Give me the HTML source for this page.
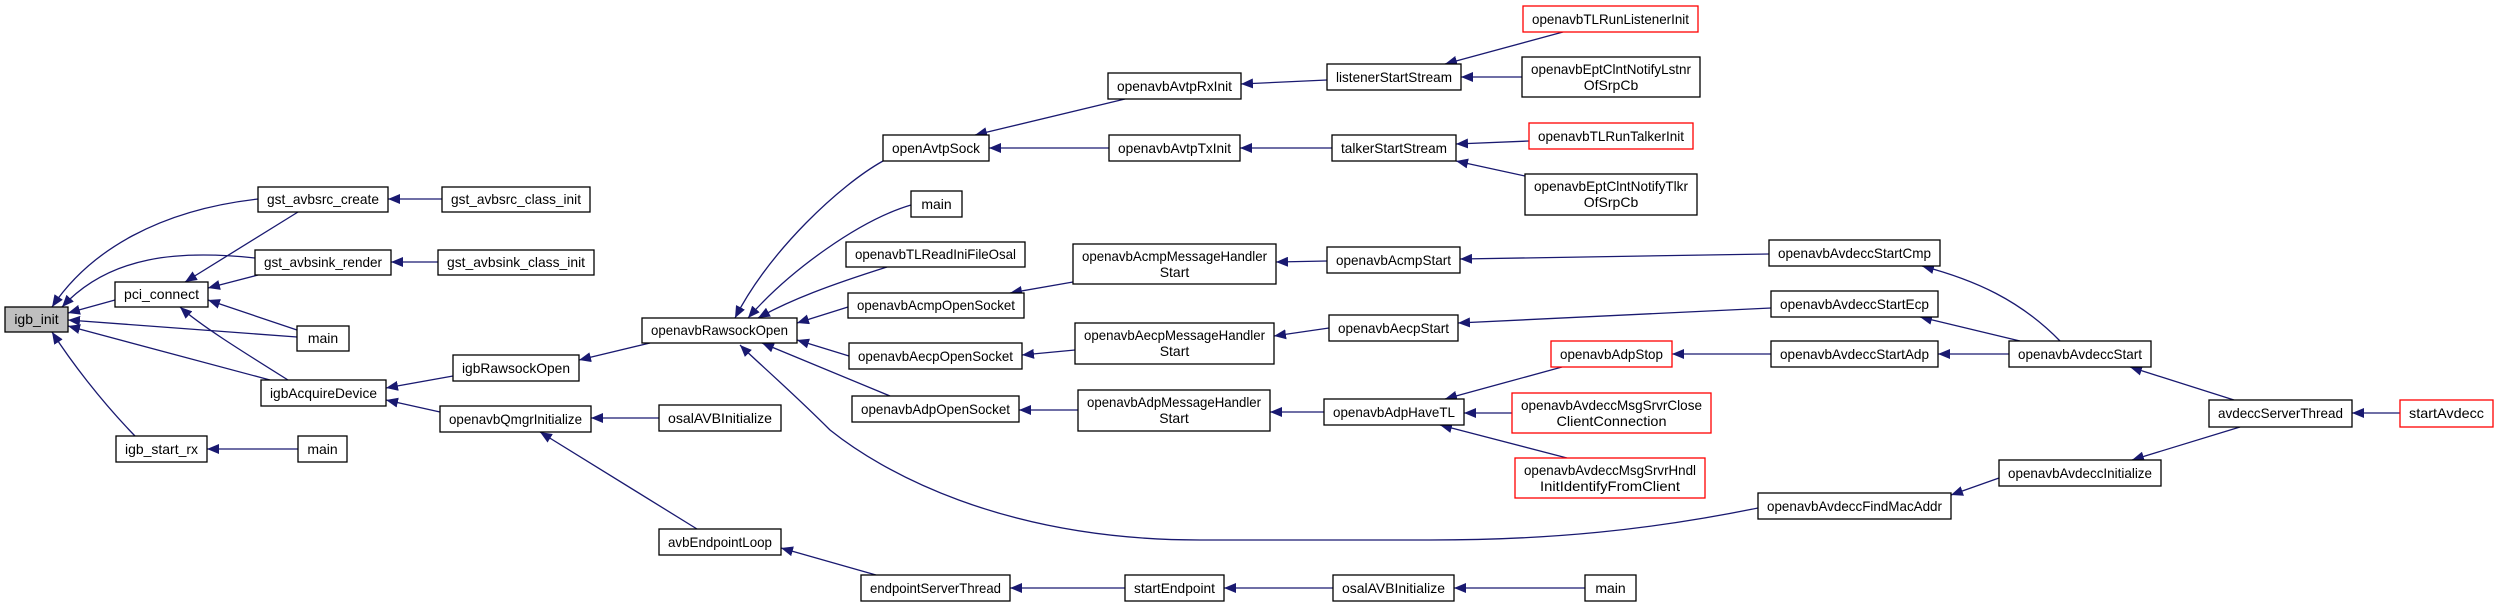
<!DOCTYPE html>
<html><head><meta charset="utf-8"><style>
html,body{margin:0;padding:0;background:#fff;}
svg{display:block;}
text{font-family:"Liberation Sans",sans-serif;font-size:14px;fill:#000;}
.b{fill:#fff;stroke:#000;stroke-width:1.3;}
.r{fill:#fff;stroke:#ff0000;stroke-width:1.3;}
.g{fill:#bfbfbf;stroke:#000;stroke-width:1.3;}
.e{fill:none;stroke:#191970;stroke-width:1.3;marker-end:url(#a);}
</style></head><body>
<svg width="2497" height="607" viewBox="0 0 2497 607" xmlns="http://www.w3.org/2000/svg">
<defs><marker id="a" markerUnits="userSpaceOnUse" markerWidth="12" markerHeight="10" refX="12" refY="5" orient="auto"><path d="M0,0 L12,5 L0,10 z" fill="#191970"/></marker></defs>

<path class="e" d="M258,199 C160,210 90,250 52,307"/>
<path class="e" d="M255,258 C180,250 110,255 62,307"/>
<path class="e" d="M115,300 L68,313"/>
<path class="e" d="M297,337 L68,320"/>
<path class="e" d="M270,380 L68,326"/>
<path class="e" d="M135,436 C100,400 70,360 52,332"/>
<path class="e" d="M298,212 L185,282"/>
<path class="e" d="M258,275 L208,288"/>
<path class="e" d="M297,330 L208,300"/>
<path class="e" d="M288,380 C240,350 200,325 180,307"/>
<path class="e" d="M442,199 L388,199"/>
<path class="e" d="M438,262 L391,262"/>
<path class="e" d="M453,376 L386,388"/>
<path class="e" d="M440,412 L386,400"/>
<path class="e" d="M298,449 L207,449"/>
<path class="e" d="M650,343 L579,360"/>
<path class="e" d="M659,418 L591,418"/>
<path class="e" d="M697,529 L540,432"/>
<path class="e" d="M876,575 L781,548"/>
<path class="e" d="M1125,588 L1010,588"/>
<path class="e" d="M1333,588 L1224,588"/>
<path class="e" d="M1585,588 L1454,588"/>
<path class="e" d="M883,161 C840,185 770,250 735,318"/>
<path class="e" d="M911,205 C860,220 790,270 748,318"/>
<path class="e" d="M887,267 C830,285 790,300 758,318"/>
<path class="e" d="M848,307 L797,323"/>
<path class="e" d="M849,356 L797,340"/>
<path class="e" d="M890,396 L762,343"/>
<path class="e" d="M1758,508 C1650,530 1550,540 1430,540 L1200,540 C1000,540 880,470 830,430 C790,390 755,360 740,345"/>
<path class="e" d="M1125,99 L975,135"/>
<path class="e" d="M1109,148 L989,148"/>
<path class="e" d="M1327,80 L1241,84"/>
<path class="e" d="M1332,148 L1240,148"/>
<path class="e" d="M1563,32 L1445,64"/>
<path class="e" d="M1522,77 L1461,77"/>
<path class="e" d="M1529,141 L1456,144"/>
<path class="e" d="M1525,176 L1456,161"/>
<path class="e" d="M1073,282 L1010,293"/>
<path class="e" d="M1327,261 L1276,262"/>
<path class="e" d="M1769,254 L1460,259"/>
<path class="e" d="M1075,350 L1022,355"/>
<path class="e" d="M1329,328 L1274,336"/>
<path class="e" d="M1771,308 L1458,323"/>
<path class="e" d="M1078,410 L1019,410"/>
<path class="e" d="M1324,412 L1270,412"/>
<path class="e" d="M1562,367 L1445,399"/>
<path class="e" d="M1512,413 L1464,413"/>
<path class="e" d="M1567,458 L1440,425"/>
<path class="e" d="M1771,354 L1672,354"/>
<path class="e" d="M2060,341 C2020,300 1975,280 1922,266"/>
<path class="e" d="M2020,341 L1920,317"/>
<path class="e" d="M2009,354 L1938,354"/>
<path class="e" d="M2234,400 L2130,367"/>
<path class="e" d="M2400,413 L2352,413"/>
<path class="e" d="M2240,427 L2132,460"/>
<path class="e" d="M1999,478 L1951,495"/>

<g>
<rect class="g" x="5" y="307" width="63" height="25"/><text x="36.5" y="324" text-anchor="middle">igb_init</text>
<rect class="b" x="258" y="187" width="130" height="25"/><text x="323" y="204" text-anchor="middle" textLength="112" lengthAdjust="spacingAndGlyphs">gst_avbsrc_create</text>
<rect class="b" x="442" y="187" width="148" height="25"/><text x="516" y="204" text-anchor="middle" textLength="130" lengthAdjust="spacingAndGlyphs">gst_avbsrc_class_init</text>
<rect class="b" x="255" y="250" width="136" height="25"/><text x="323" y="267" text-anchor="middle" textLength="118" lengthAdjust="spacingAndGlyphs">gst_avbsink_render</text>
<rect class="b" x="438" y="250" width="156" height="25"/><text x="516" y="267" text-anchor="middle" textLength="138" lengthAdjust="spacingAndGlyphs">gst_avbsink_class_init</text>
<rect class="b" x="115" y="282" width="93" height="25"/><text x="161.5" y="299" text-anchor="middle" textLength="75" lengthAdjust="spacingAndGlyphs">pci_connect</text>
<rect class="b" x="297" y="326" width="52" height="25"/><text x="323" y="343" text-anchor="middle">main</text>
<rect class="b" x="261" y="380" width="125" height="26"/><text x="323.5" y="398" text-anchor="middle" textLength="107" lengthAdjust="spacingAndGlyphs">igbAcquireDevice</text>
<rect class="b" x="453" y="355" width="126" height="26"/><text x="516" y="373" text-anchor="middle" textLength="108" lengthAdjust="spacingAndGlyphs">igbRawsockOpen</text>
<rect class="b" x="440" y="406" width="151" height="26"/><text x="515.5" y="424" text-anchor="middle" textLength="133" lengthAdjust="spacingAndGlyphs">openavbQmgrInitialize</text>
<rect class="b" x="116" y="436" width="91" height="26"/><text x="161.5" y="454" text-anchor="middle" textLength="73" lengthAdjust="spacingAndGlyphs">igb_start_rx</text>
<rect class="b" x="298" y="436" width="49" height="26"/><text x="322.5" y="454" text-anchor="middle">main</text>
<rect class="b" x="659" y="405" width="122" height="26"/><text x="720" y="423" text-anchor="middle" textLength="104" lengthAdjust="spacingAndGlyphs">osalAVBInitialize</text>
<rect class="b" x="659" y="529" width="122" height="26"/><text x="720" y="547" text-anchor="middle" textLength="104" lengthAdjust="spacingAndGlyphs">avbEndpointLoop</text>
<rect class="b" x="861" y="575" width="149" height="26"/><text x="935.5" y="593" text-anchor="middle" textLength="131" lengthAdjust="spacingAndGlyphs">endpointServerThread</text>
<rect class="b" x="1125" y="575" width="99" height="26"/><text x="1174.5" y="593" text-anchor="middle" textLength="81" lengthAdjust="spacingAndGlyphs">startEndpoint</text>
<rect class="b" x="1333" y="575" width="121" height="26"/><text x="1393.5" y="593" text-anchor="middle" textLength="103" lengthAdjust="spacingAndGlyphs">osalAVBInitialize</text>
<rect class="b" x="1585" y="575" width="51" height="26"/><text x="1610.5" y="593" text-anchor="middle">main</text>
<rect class="b" x="642" y="318" width="155" height="25"/><text x="719.5" y="335" text-anchor="middle" textLength="137" lengthAdjust="spacingAndGlyphs">openavbRawsockOpen</text>
<rect class="b" x="883" y="135" width="106" height="26"/><text x="936" y="153" text-anchor="middle" textLength="88" lengthAdjust="spacingAndGlyphs">openAvtpSock</text>
<rect class="b" x="911" y="191" width="51" height="26"/><text x="936.5" y="209" text-anchor="middle">main</text>
<rect class="b" x="846" y="242" width="179" height="25"/><text x="935.5" y="259" text-anchor="middle" textLength="161" lengthAdjust="spacingAndGlyphs">openavbTLReadIniFileOsal</text>
<rect class="b" x="848" y="293" width="176" height="25"/><text x="936" y="310" text-anchor="middle" textLength="158" lengthAdjust="spacingAndGlyphs">openavbAcmpOpenSocket</text>
<rect class="b" x="849" y="343" width="173" height="26"/><text x="935.5" y="361" text-anchor="middle" textLength="155" lengthAdjust="spacingAndGlyphs">openavbAecpOpenSocket</text>
<rect class="b" x="852" y="396" width="167" height="26"/><text x="935.5" y="414" text-anchor="middle" textLength="149" lengthAdjust="spacingAndGlyphs">openavbAdpOpenSocket</text>
<rect class="b" x="1108" y="73" width="133" height="26"/><text x="1174.5" y="91" text-anchor="middle" textLength="115" lengthAdjust="spacingAndGlyphs">openavbAvtpRxInit</text>
<rect class="b" x="1109" y="135" width="131" height="26"/><text x="1174.5" y="153" text-anchor="middle" textLength="113" lengthAdjust="spacingAndGlyphs">openavbAvtpTxInit</text>
<rect class="b" x="1073" y="244" width="203" height="40"/><text x="1174.5" y="261" text-anchor="middle" textLength="185" lengthAdjust="spacingAndGlyphs">openavbAcmpMessageHandler</text><text x="1174.5" y="277" text-anchor="middle">Start</text>
<rect class="b" x="1075" y="323" width="199" height="41"/><text x="1174.5" y="340" text-anchor="middle" textLength="181" lengthAdjust="spacingAndGlyphs">openavbAecpMessageHandler</text><text x="1174.5" y="356" text-anchor="middle">Start</text>
<rect class="b" x="1078" y="390" width="192" height="41"/><text x="1174" y="407" text-anchor="middle" textLength="174" lengthAdjust="spacingAndGlyphs">openavbAdpMessageHandler</text><text x="1174" y="423" text-anchor="middle">Start</text>
<rect class="b" x="1327" y="64" width="134" height="26"/><text x="1394" y="82" text-anchor="middle" textLength="116" lengthAdjust="spacingAndGlyphs">listenerStartStream</text>
<rect class="b" x="1332" y="135" width="124" height="26"/><text x="1394" y="153" text-anchor="middle" textLength="106" lengthAdjust="spacingAndGlyphs">talkerStartStream</text>
<rect class="b" x="1327" y="247" width="133" height="26"/><text x="1393.5" y="265" text-anchor="middle" textLength="115" lengthAdjust="spacingAndGlyphs">openavbAcmpStart</text>
<rect class="b" x="1329" y="315" width="129" height="26"/><text x="1393.5" y="333" text-anchor="middle" textLength="111" lengthAdjust="spacingAndGlyphs">openavbAecpStart</text>
<rect class="b" x="1324" y="399" width="140" height="26"/><text x="1394" y="417" text-anchor="middle" textLength="122" lengthAdjust="spacingAndGlyphs">openavbAdpHaveTL</text>
<rect class="r" x="1523" y="6" width="175" height="26"/><text x="1610.5" y="24" text-anchor="middle" textLength="157" lengthAdjust="spacingAndGlyphs">openavbTLRunListenerInit</text>
<rect class="b" x="1522" y="57" width="178" height="40"/><text x="1611" y="74" text-anchor="middle" textLength="160" lengthAdjust="spacingAndGlyphs">openavbEptClntNotifyLstnr</text><text x="1611" y="90" text-anchor="middle">OfSrpCb</text>
<rect class="r" x="1529" y="123" width="164" height="26"/><text x="1611" y="141" text-anchor="middle" textLength="146" lengthAdjust="spacingAndGlyphs">openavbTLRunTalkerInit</text>
<rect class="b" x="1525" y="174" width="172" height="41"/><text x="1611" y="191" text-anchor="middle" textLength="154" lengthAdjust="spacingAndGlyphs">openavbEptClntNotifyTlkr</text><text x="1611" y="207" text-anchor="middle">OfSrpCb</text>
<rect class="r" x="1551" y="341" width="121" height="26"/><text x="1611.5" y="359" text-anchor="middle" textLength="103" lengthAdjust="spacingAndGlyphs">openavbAdpStop</text>
<rect class="r" x="1512" y="393" width="199" height="40"/><text x="1611.5" y="410" text-anchor="middle" textLength="181" lengthAdjust="spacingAndGlyphs">openavbAvdeccMsgSrvrClose</text><text x="1611.5" y="426" text-anchor="middle" textLength="110" lengthAdjust="spacingAndGlyphs">ClientConnection</text>
<rect class="r" x="1515" y="458" width="190" height="40"/><text x="1610" y="475" text-anchor="middle" textLength="172" lengthAdjust="spacingAndGlyphs">openavbAvdeccMsgSrvrHndl</text><text x="1610" y="491" text-anchor="middle" textLength="140" lengthAdjust="spacingAndGlyphs">InitIdentifyFromClient</text>
<rect class="b" x="1769" y="240" width="171" height="26"/><text x="1854.5" y="258" text-anchor="middle" textLength="153" lengthAdjust="spacingAndGlyphs">openavbAvdeccStartCmp</text>
<rect class="b" x="1771" y="291" width="167" height="26"/><text x="1854.5" y="309" text-anchor="middle" textLength="149" lengthAdjust="spacingAndGlyphs">openavbAvdeccStartEcp</text>
<rect class="b" x="1771" y="341" width="167" height="26"/><text x="1854.5" y="359" text-anchor="middle" textLength="149" lengthAdjust="spacingAndGlyphs">openavbAvdeccStartAdp</text>
<rect class="b" x="2009" y="341" width="142" height="26"/><text x="2080" y="359" text-anchor="middle" textLength="124" lengthAdjust="spacingAndGlyphs">openavbAvdeccStart</text>
<rect class="b" x="1758" y="493" width="193" height="26"/><text x="1854.5" y="511" text-anchor="middle" textLength="175" lengthAdjust="spacingAndGlyphs">openavbAvdeccFindMacAddr</text>
<rect class="b" x="1999" y="460" width="162" height="26"/><text x="2080" y="478" text-anchor="middle" textLength="144" lengthAdjust="spacingAndGlyphs">openavbAvdeccInitialize</text>
<rect class="b" x="2209" y="400" width="143" height="27"/><text x="2280.5" y="418" text-anchor="middle" textLength="125" lengthAdjust="spacingAndGlyphs">avdeccServerThread</text>
<rect class="r" x="2400" y="400" width="93" height="27"/><text x="2446.5" y="418" text-anchor="middle" textLength="75" lengthAdjust="spacingAndGlyphs">startAvdecc</text>
</g>
</svg>
</body></html>
